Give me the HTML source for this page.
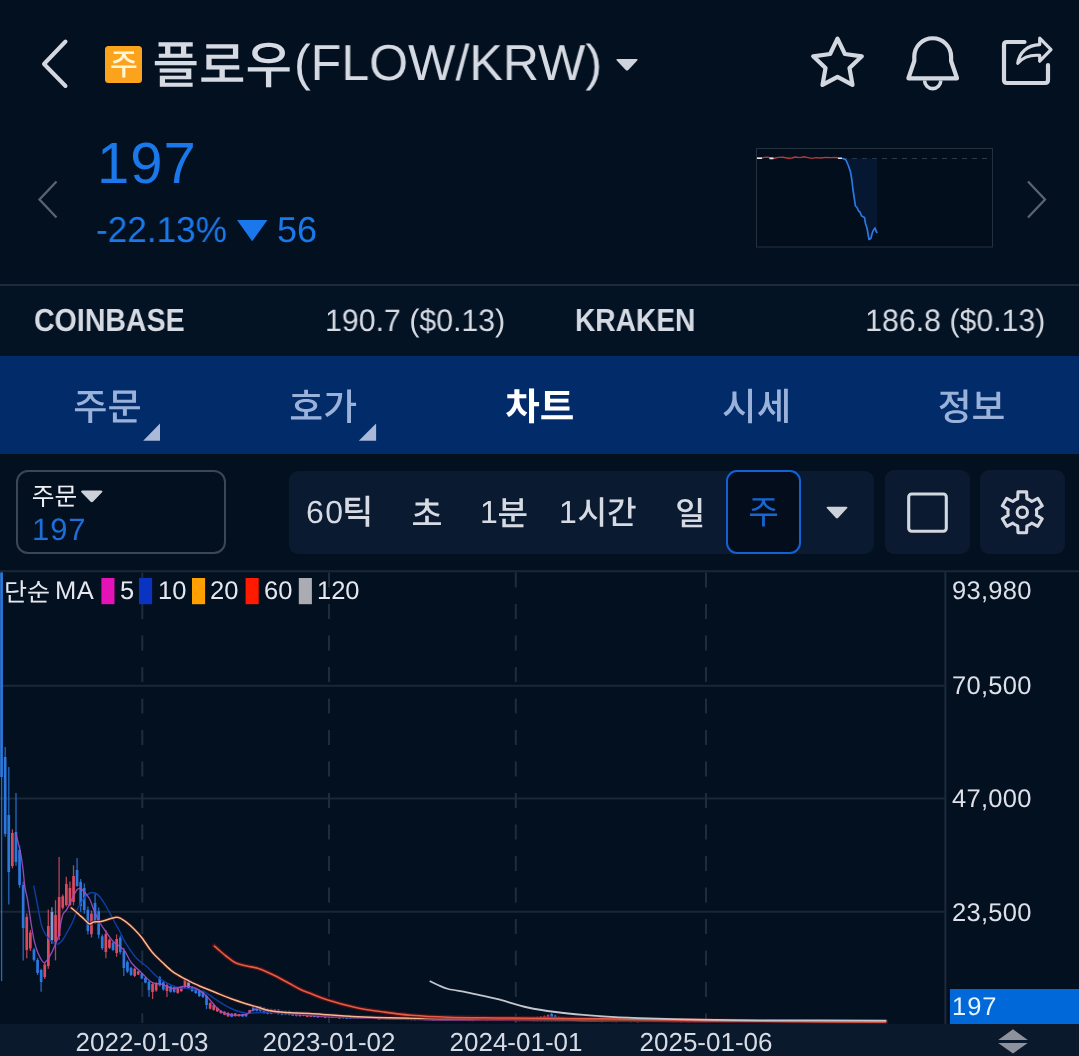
<!DOCTYPE html>
<html lang="ko"><head><meta charset="utf-8"><title>FLOW/KRW</title>
<style>
html,body{margin:0;padding:0;background:#021020}
body{width:1079px;height:1056px;overflow:hidden;font-family:"Liberation Sans",sans-serif;text-rendering:geometricPrecision;-webkit-font-smoothing:antialiased}
#app{position:relative;width:1079px;height:1056px;background:#021020;overflow:hidden}
.abs{position:absolute}
.t{position:absolute;white-space:nowrap;display:block;will-change:transform}
#ov{position:absolute;left:0;top:0}
#ov text{font-family:"Liberation Sans","Noto Sans CJK KR",sans-serif}
</style></head><body>
<div id="app">
<header>
<span class="t ttl" style="left:294px;top:38.4px;font-size:50.5px;line-height:50.5px;color:#d6dae3;transform:scaleX(0.9920);transform-origin:left 50%;">(FLOW/KRW)</span>
</header>
<section aria-label="price">
<span class="t p1" style="left:97px;top:135px;font-size:58px;line-height:58px;color:#1a78ea;letter-spacing:1px;">197</span>
<span class="t p2" style="left:95.5px;top:211.7px;font-size:36px;line-height:36px;color:#1a78ea;transform:scaleX(0.9770);transform-origin:left 50%;">-22.13%</span>
<span class="t p3" style="left:276.6px;top:211.5px;font-size:36px;line-height:36px;color:#1a78ea;">56</span>
</section>
<section aria-label="exchanges">
<div class="abs" style="left:0;top:283.5px;width:1079px;height:2px;background:#1d2a3b"></div>
<div class="abs" style="left:0;top:285.5px;width:1079px;height:71px;background:#041324"></div>
<span class="t e1" style="left:34.3px;top:303.6px;font-size:32px;line-height:32px;color:#d6dae3;font-weight:700;transform:scaleX(0.8920);transform-origin:left 50%;">COINBASE</span>
<span class="t e2" style="left:325px;top:304.7px;font-size:31px;line-height:31px;color:#d6dae3;transform:scaleX(0.9775);transform-origin:left 50%;">190.7 ($0.13)</span>
<span class="t e3" style="left:574.7px;top:303.6px;font-size:32px;line-height:32px;color:#d6dae3;font-weight:700;transform:scaleX(0.8790);transform-origin:left 50%;">KRAKEN</span>
<span class="t e4" style="right:33.6px;top:304.7px;font-size:31px;line-height:31px;color:#d6dae3;transform:scaleX(0.9775);transform-origin:right 50%;">186.8 ($0.13)</span>
</section>
<nav aria-label="tabs">
<div class="abs" style="left:0;top:356.4px;width:1079px;height:97.3px;background:#022b6a"></div>
</nav>
<section aria-label="toolbar">
<div class="abs" style="left:16px;top:470px;width:209.5px;height:83.5px;box-sizing:border-box;border:2.5px solid #3c4756;border-radius:12px"></div>
<span class="t o1" style="left:32.2px;top:513.5px;font-size:31px;line-height:31px;color:#1f6dd6;letter-spacing:0.9px;">197</span>
<div class="abs" style="left:289px;top:470.5px;width:585px;height:83px;background:#0a1a31;border-radius:9px"></div>
<span class="t k1" style="left:305.5px;top:496.3px;font-size:32px;line-height:32px;color:#d6dae3;letter-spacing:1.4px;">60</span>
<span class="t k2" style="left:479.5px;top:496px;font-size:32px;line-height:32px;color:#d6dae3;">1</span>
<span class="t k3" style="left:558.5px;top:496px;font-size:32px;line-height:32px;color:#d6dae3;">1</span>
<div class="abs" style="left:726px;top:469.7px;width:74.5px;height:84px;box-sizing:border-box;border:2.2px solid #1262d4;border-radius:11px;background:#030d1b"></div>
<div class="abs" style="left:885px;top:470px;width:84.5px;height:84px;background:#0b1a31;border-radius:9px"></div>
<div class="abs" style="left:980px;top:470px;width:84.5px;height:84px;background:#0b1a31;border-radius:9px"></div>
</section>
<main aria-label="chart">
<div class="abs" style="left:0;top:1023.7px;width:1079px;height:33px;background:#0b192c"></div>
<span class="t l0" style="left:54.6px;top:579.3px;font-size:25.5px;line-height:25.5px;color:#e4e7ee;letter-spacing:0.6px;">MA</span>
<span class="t l1" style="left:120px;top:579.2px;font-size:25.5px;line-height:25.5px;color:#e4e7ee;">5</span>
<span class="t l2" style="left:158.3px;top:579.2px;font-size:25.5px;line-height:25.5px;color:#e4e7ee;">10</span>
<span class="t l3" style="left:210px;top:579.2px;font-size:25.5px;line-height:25.5px;color:#e4e7ee;">20</span>
<span class="t l4" style="left:264.3px;top:579.2px;font-size:25.5px;line-height:25.5px;color:#e4e7ee;">60</span>
<span class="t l5" style="left:316.5px;top:579.2px;font-size:25.5px;line-height:25.5px;color:#e4e7ee;">120</span>
<span class="t yl" style="left:952px;top:578.7px;font-size:25.5px;line-height:25.5px;color:#dde0e8;letter-spacing:0.3px;">93,980</span>
<span class="t yl" style="left:952px;top:674.2px;font-size:25.5px;line-height:25.5px;color:#dde0e8;letter-spacing:0.3px;">70,500</span>
<span class="t yl" style="left:952px;top:787.2px;font-size:25.5px;line-height:25.5px;color:#dde0e8;letter-spacing:0.3px;">47,000</span>
<span class="t yl" style="left:952px;top:900.7px;font-size:25.5px;line-height:25.5px;color:#dde0e8;letter-spacing:0.3px;">23,500</span>
<div class="abs" style="left:950px;top:989.2px;width:129px;height:34.8px;background:#0068d8"></div>
<span class="t yl" style="left:952px;top:994.6px;font-size:25.5px;line-height:25.5px;color:#e6f4ff;letter-spacing:1px;">197</span>
<span class="t xl" style="left:61.8px;top:1028.5px;width:160px;text-align:center;font-size:26px;line-height:26px;color:#d6dae3">2022-01-03</span>
<span class="t xl" style="left:249px;top:1028.5px;width:160px;text-align:center;font-size:26px;line-height:26px;color:#d6dae3">2023-01-02</span>
<span class="t xl" style="left:436px;top:1028.5px;width:160px;text-align:center;font-size:26px;line-height:26px;color:#d6dae3">2024-01-01</span>
<span class="t xl" style="left:626px;top:1028.5px;width:160px;text-align:center;font-size:26px;line-height:26px;color:#d6dae3">2025-01-06</span>
</main>
<svg id="ov" width="1079" height="1056" viewBox="0 0 1079 1056" role="img" aria-label="플로우(FLOW/KRW) 주문 호가 차트 시세 정보 60틱 초 1분 1시간 일 주 단순 MA">
<path d="M65.5 41.5 L44 64 L65.5 86" fill="none" stroke="#d3d7e0" stroke-width="4" stroke-linecap="round" stroke-linejoin="round"/>
<rect x="105" y="46" width="37" height="37" rx="3.5" fill="#fba31c"/>
<text x="110.1" y="75.3" font-size="30.2" font-weight="500" fill="#fff4d4">주</text>
<text x="152.6" y="82.8" font-size="50.5" font-weight="500" fill="#d6dae3">플로우</text>
<path d="M617.5 59 H636.5 Q638.5 59 637.2 60.6 L628.3 69.9 Q627 71.2 625.7 69.9 L616.8 60.6 Q615.5 59 617.5 59Z" fill="#cfd3dc"/>
<path d="M837.5 38.6 L844.9 54 L861.8 56.3 L849.5 68.1 L852.5 84.9 L837.5 76.8 L822.5 84.9 L825.5 68.1 L813.2 56.3 L830.1 54Z" fill="none" stroke="#d3d7e0" stroke-width="4.2" stroke-linejoin="round"/>
<path d="M914.3 61 V56.6 A18.4 18.4 0 0 1 951.1 56.6 V61 L957 78.3 H908.4 Z" fill="none" stroke="#d3d7e0" stroke-width="4.2" stroke-linejoin="round"/>
<path d="M924.6 80.5 A8.1 8.1 0 0 0 940.8 80.5" fill="none" stroke="#d3d7e0" stroke-width="3.6"/>
<path d="M1024.5 42 H1007 Q1004 42 1004 45 V80 Q1004 83 1007 83 H1045 Q1048 83 1048 80 V65" fill="none" stroke="#d3d7e0" stroke-width="4.2" stroke-linecap="round"/>
<path d="M1039.7 38.2 L1051 49.6 L1039.7 61.2 V55.4 C1030.5 54.6 1023 57.4 1017.8 63.2 C1019.4 52.2 1027.4 45 1039.7 44.6 Z" fill="none" stroke="#d3d7e0" stroke-width="3.2" stroke-linejoin="round"/>
<path d="M237 220 H267.5 L252.2 241.2Z" fill="#1a78ea"/>
<path d="M56.5 181.5 L39.5 199.5 L56.5 217.5" fill="none" stroke="#5b6370" stroke-width="2.3"/>
<path d="M1028 181.5 L1045 199.5 L1028 217.5" fill="none" stroke="#5b6370" stroke-width="2.3"/>
<rect x="756.5" y="148.5" width="236" height="98.5" fill="#020e1c" stroke="#263140" stroke-width="1"/>
<path d="M842 158.5 H992" stroke="#2b3848" stroke-width="1.2" stroke-dasharray="5 5" fill="none"/>
<path d="M842.3 158.5 L842.3 158.3 L846 160 L848.5 166 L850.5 172 L852 181 L853 190 L854.4 199 L855.4 206 L857 207.5 L858.6 211 L860 212 L861.6 216 L864.5 217.5 L865.6 224 L867 228 L868 234 L869 239.5 L870.8 238.5 L872 234 L873 231 L875 228 L876 231 L877.2 233 L877.2 158.5Z" fill="#0b2a5e" opacity=".33"/>
<path d="M757 158 L762 158 L764 157.4 L768 157.2 L771 158.2 L775 158.2 L778 157.4 L783 157.2 L788 158.2 L792 158 L795 157 L800 157.6 L804 156.8 L808 157.6 L812 158.4 L816 157.6 L821 158 L826 157.4 L831 157.6 L836 157.4 L838 158" fill="none" stroke="#b63a3a" stroke-width="1.4"/>
<path d="M757 158.2 H762 M769.5 158.4 H773.5 M838 158.2 H842" stroke="#e8e8ee" stroke-width="1.6"/>
<path d="M842.3 158.3 L846 160 L848.5 166 L850.5 172 L852 181 L853 190 L854.4 199 L855.4 206 L857 207.5 L858.6 211 L860 212 L861.6 216 L864.5 217.5 L865.6 224 L867 228 L868 234 L869 239.5 L870.8 238.5 L872 234 L873 231 L875 228 L876 231 L877.2 233" fill="none" stroke="#2b78e2" stroke-width="1.7" stroke-linejoin="round"/>
<text x="73.2" y="420.1" font-size="37.2" font-weight="500" fill="#9ab2da">주문</text>
<text x="289.3" y="419.9" font-size="36.8" font-weight="500" fill="#9ab2da">호가</text>
<text x="505.2" y="420.4" font-size="37.6" font-weight="700" fill="#ffffff">차트</text>
<text x="722.1" y="420" font-size="37.6" font-weight="500" fill="#9ab2da">시세</text>
<text x="937.7" y="419.5" font-size="36.8" font-weight="500" fill="#9ab2da">정보</text>
<path d="M160 423.6 V440.8 H143.2Z" fill="#aab9d8"/>
<path d="M376.1 423.6 V440.8 H358.8Z" fill="#aab9d8"/>
<text x="31.8" y="505.1" font-size="24.7" fill="#eef0f5">주문</text>
<path d="M82.5 490.5 H101 Q103.5 490.5 101.8 492.4 L93.2 501.6 Q91.8 503 90.4 501.6 L81.7 492.4 Q80 490.5 82.5 490.5Z" fill="#cdd1da"/>
<text x="341.9" y="524.4" font-size="34" font-weight="500" fill="#d6dae3">틱</text>
<text x="411.4" y="525.6" font-size="33.7" font-weight="500" fill="#d6dae3">초</text>
<text x="497.5" y="524.9" font-size="33.2" font-weight="500" fill="#d6dae3">분</text>
<text x="577.4" y="524.1" font-size="32.2" font-weight="500" fill="#d6dae3">시간</text>
<text x="675.3" y="524.7" font-size="32.6" font-weight="500" fill="#d6dae3">일</text>
<text x="748.3" y="524" font-size="33.3" fill="#1766d4">주</text>
<path d="M828 506.8 H846 Q848.5 506.8 846.8 508.6 L838.3 517.8 Q837 519.2 835.7 517.8 L827.2 508.6 Q825.5 506.8 828 506.8Z" fill="#cdd1da"/>
<rect x="908.7" y="494" width="37.6" height="37.3" rx="3" fill="none" stroke="#d3d7e0" stroke-width="3.1"/>
<path d="M1017.7 498.7 L1018 491.9 L1026.6 491.9 L1026.9 498.7 A14.4 14.4 0 0 1 1031.8 501.5 L1037.8 498.3 L1042.2 505.8 L1036.4 509.5 A14.4 14.4 0 0 1 1036.4 515.1 L1042.2 518.8 L1037.8 526.3 L1031.8 523.1 A14.4 14.4 0 0 1 1026.9 525.9 L1026.6 532.7 L1018 532.7 L1017.7 525.9 A14.4 14.4 0 0 1 1012.8 523.1 L1006.8 526.3 L1002.4 518.8 L1008.2 515.1 A14.4 14.4 0 0 1 1008.2 509.5 L1002.4 505.8 L1006.8 498.3 L1012.8 501.5 A14.4 14.4 0 0 1 1017.7 498.7 Z" fill="none" stroke="#d3d7e0" stroke-width="3.1" stroke-linejoin="round"/>
<circle cx="1022.3" cy="512.3" r="5.2" fill="none" stroke="#d3d7e0" stroke-width="3"/>
<path d="M0 571.3 H1079" stroke="#1a2737" stroke-width="2"/>
<path d="M0 685.7 H945" stroke="#1a2737" stroke-width="2"/>
<path d="M0 798.5 H945" stroke="#1a2737" stroke-width="2"/>
<path d="M0 911.8 H945" stroke="#1a2737" stroke-width="2"/>
<path d="M142.3 572.4 V1023" stroke="#1f2c3d" stroke-width="2" stroke-dasharray="15 16.5"/>
<path d="M329 572.4 V1023" stroke="#1f2c3d" stroke-width="2" stroke-dasharray="15 16.5"/>
<path d="M515.8 572.4 V1023" stroke="#1f2c3d" stroke-width="2" stroke-dasharray="15 16.5"/>
<path d="M706 572.4 V1023" stroke="#1f2c3d" stroke-width="2" stroke-dasharray="15 16.5"/>
<path d="M945.4 572 V1024" stroke="#1d2a3b" stroke-width="2"/>
<path d="M1.6 572.5 V981" stroke="#2c78de" stroke-width="1.3" opacity=".85"/>
<rect x="0.2" y="572.5" width="2.7" height="204.5" fill="#2c78de"/>
<path d="M5.2 747 V836.7" stroke="#2c78de" stroke-width="1.3" opacity=".85"/>
<rect x="3.8" y="757" width="2.7" height="77" fill="#2c78de"/>
<path d="M8.8 767 V904.4" stroke="#2c78de" stroke-width="1.3" opacity=".85"/>
<rect x="7.4" y="815" width="2.7" height="57" fill="#2c78de"/>
<path d="M12.4 829.4 V868.4" stroke="#dc4a60" stroke-width="1.3" opacity=".85"/>
<rect x="11" y="833" width="2.7" height="33" fill="#dc4a60"/>
<path d="M16 793 V865.8" stroke="#2c78de" stroke-width="1.3" opacity=".85"/>
<rect x="14.6" y="832" width="2.7" height="30" fill="#2c78de"/>
<path d="M19.6 845.5 V887.7" stroke="#2c78de" stroke-width="1.3" opacity=".85"/>
<rect x="18.2" y="850" width="2.7" height="35" fill="#2c78de"/>
<path d="M23.2 881.5 V960.4" stroke="#2c78de" stroke-width="1.3" opacity=".85"/>
<rect x="21.8" y="885" width="2.7" height="43" fill="#2c78de"/>
<path d="M26.8 913.5 V958.3" stroke="#dc4a60" stroke-width="1.3" opacity=".85"/>
<rect x="25.4" y="917" width="2.7" height="33" fill="#dc4a60"/>
<path d="M30.4 930 V951" stroke="#dc4a60" stroke-width="1.3" opacity=".85"/>
<rect x="29" y="932.5" width="2.7" height="16" fill="#dc4a60"/>
<path d="M34 948 V961.5" stroke="#2c78de" stroke-width="1.3" opacity=".85"/>
<rect x="32.6" y="949.6" width="2.7" height="10.3" fill="#2c78de"/>
<path d="M37.6 958 V975" stroke="#2c78de" stroke-width="1.3" opacity=".85"/>
<rect x="36.2" y="960" width="2.7" height="12.9" fill="#2c78de"/>
<path d="M41.1 968.7 V991.7" stroke="#2c78de" stroke-width="1.3" opacity=".85"/>
<rect x="39.8" y="970" width="2.7" height="12" fill="#2c78de"/>
<path d="M44.7 962.5 V979" stroke="#dc4a60" stroke-width="1.3" opacity=".85"/>
<rect x="43.4" y="964.5" width="2.7" height="12.5" fill="#dc4a60"/>
<path d="M48.3 909.5 V968.7" stroke="#dc4a60" stroke-width="1.3" opacity=".85"/>
<rect x="47" y="926" width="2.7" height="40" fill="#dc4a60"/>
<path d="M51.9 907.3 V943.7" stroke="#7f9fd8" stroke-width="1.3" opacity=".85"/>
<rect x="50.6" y="912" width="2.7" height="28" fill="#7f9fd8"/>
<path d="M55.5 900.2 V960.4" stroke="#dc4a60" stroke-width="1.3" opacity=".85"/>
<rect x="54.2" y="915" width="2.7" height="27" fill="#dc4a60"/>
<path d="M59.1 857 V940" stroke="#dc4a60" stroke-width="1.3" opacity=".85"/>
<rect x="57.8" y="897" width="2.7" height="39" fill="#dc4a60"/>
<path d="M62.7 894.5 V909.6" stroke="#dc4a60" stroke-width="1.3" opacity=".85"/>
<rect x="61.4" y="896.3" width="2.7" height="11.5" fill="#dc4a60"/>
<path d="M66.3 876.8 V906.5" stroke="#dc4a60" stroke-width="1.3" opacity=".85"/>
<rect x="65" y="884" width="2.7" height="21" fill="#dc4a60"/>
<path d="M69.9 881.5 V906.5" stroke="#dc4a60" stroke-width="1.3" opacity=".85"/>
<rect x="68.6" y="888" width="2.7" height="17" fill="#dc4a60"/>
<path d="M73.5 865.3 V905.4" stroke="#dc4a60" stroke-width="1.3" opacity=".85"/>
<rect x="72.2" y="876" width="2.7" height="26" fill="#dc4a60"/>
<path d="M77.1 858 V886.7" stroke="#2c78de" stroke-width="1.3" opacity=".85"/>
<rect x="75.7" y="870" width="2.7" height="16" fill="#2c78de"/>
<path d="M80.7 878.9 V911.7" stroke="#2c78de" stroke-width="1.3" opacity=".85"/>
<rect x="79.3" y="882" width="2.7" height="24" fill="#2c78de"/>
<path d="M84.3 883.5 V913.7" stroke="#2c78de" stroke-width="1.3" opacity=".85"/>
<rect x="82.9" y="888" width="2.7" height="22" fill="#2c78de"/>
<path d="M87.9 906.5 V934.4" stroke="#2c78de" stroke-width="1.3" opacity=".85"/>
<rect x="86.5" y="909.8" width="2.7" height="21.2" fill="#2c78de"/>
<path d="M91.5 910.5 V937.5" stroke="#dc4a60" stroke-width="1.3" opacity=".85"/>
<rect x="90.1" y="913.7" width="2.7" height="20.5" fill="#dc4a60"/>
<path d="M95.1 894 V924" stroke="#2c78de" stroke-width="1.3" opacity=".85"/>
<rect x="93.7" y="903" width="2.7" height="19" fill="#2c78de"/>
<path d="M98.7 907.5 V938.5" stroke="#2c78de" stroke-width="1.3" opacity=".85"/>
<rect x="97.3" y="911.2" width="2.7" height="23.6" fill="#2c78de"/>
<path d="M102.3 934.4 V950" stroke="#2c78de" stroke-width="1.3" opacity=".85"/>
<rect x="100.9" y="936.3" width="2.7" height="11.9" fill="#2c78de"/>
<path d="M105.9 930.2 V958.3" stroke="#dc4a60" stroke-width="1.3" opacity=".85"/>
<rect x="104.5" y="934" width="2.7" height="18" fill="#dc4a60"/>
<path d="M109.5 938.5 V949" stroke="#dc4a60" stroke-width="1.3" opacity=".85"/>
<rect x="108.1" y="939.8" width="2.7" height="8" fill="#dc4a60"/>
<path d="M113 941.7 V951" stroke="#2c78de" stroke-width="1.3" opacity=".85"/>
<rect x="111.7" y="942.8" width="2.7" height="7.1" fill="#2c78de"/>
<path d="M116.6 934.4 V956.8" stroke="#dc4a60" stroke-width="1.3" opacity=".85"/>
<rect x="115.3" y="939" width="2.7" height="14" fill="#dc4a60"/>
<path d="M120.2 935.4 V954.2" stroke="#2c78de" stroke-width="1.3" opacity=".85"/>
<rect x="118.9" y="937.7" width="2.7" height="14.3" fill="#2c78de"/>
<path d="M123.8 948 V976" stroke="#2c78de" stroke-width="1.3" opacity=".85"/>
<rect x="122.5" y="951" width="2.7" height="17" fill="#2c78de"/>
<path d="M127.4 960.4 V973" stroke="#2c78de" stroke-width="1.3" opacity=".85"/>
<rect x="126.1" y="961.9" width="2.7" height="9.6" fill="#2c78de"/>
<path d="M131 966.7 V976" stroke="#2c78de" stroke-width="1.3" opacity=".85"/>
<rect x="129.7" y="967.8" width="2.7" height="7.1" fill="#2c78de"/>
<path d="M134.6 967.7 V977" stroke="#dc4a60" stroke-width="1.3" opacity=".85"/>
<rect x="133.3" y="968.8" width="2.7" height="7.1" fill="#dc4a60"/>
<path d="M138.2 970.8 V975" stroke="#dc4a60" stroke-width="1.3" opacity=".85"/>
<rect x="136.9" y="971.3" width="2.7" height="3.2" fill="#dc4a60"/>
<path d="M141.8 972.9 V979.2" stroke="#2c78de" stroke-width="1.3" opacity=".85"/>
<rect x="140.5" y="973.7" width="2.7" height="4.8" fill="#2c78de"/>
<path d="M145.4 977 V983.3" stroke="#2c78de" stroke-width="1.3" opacity=".85"/>
<rect x="144.1" y="977.8" width="2.7" height="4.8" fill="#2c78de"/>
<path d="M149 980.2 V996.9" stroke="#2c78de" stroke-width="1.3" opacity=".85"/>
<rect x="147.6" y="982" width="2.7" height="8" fill="#2c78de"/>
<path d="M152.6 982.3 V999" stroke="#dc4a60" stroke-width="1.3" opacity=".85"/>
<rect x="151.2" y="984" width="2.7" height="8" fill="#dc4a60"/>
<path d="M156.2 982.3 V991.7" stroke="#dc4a60" stroke-width="1.3" opacity=".85"/>
<rect x="154.8" y="983.4" width="2.7" height="7.1" fill="#dc4a60"/>
<path d="M159.8 976 V986.5" stroke="#2c78de" stroke-width="1.3" opacity=".85"/>
<rect x="158.4" y="977.3" width="2.7" height="8" fill="#2c78de"/>
<path d="M163.4 981.2 V990.6" stroke="#2c78de" stroke-width="1.3" opacity=".85"/>
<rect x="162" y="982.3" width="2.7" height="7.1" fill="#2c78de"/>
<path d="M167 983.3 V996.9" stroke="#dc4a60" stroke-width="1.3" opacity=".85"/>
<rect x="165.6" y="985" width="2.7" height="6" fill="#dc4a60"/>
<path d="M170.6 985.4 V992.7" stroke="#2c78de" stroke-width="1.3" opacity=".85"/>
<rect x="169.2" y="986.3" width="2.7" height="5.5" fill="#2c78de"/>
<path d="M174.2 986.5 V992.7" stroke="#2c78de" stroke-width="1.3" opacity=".85"/>
<rect x="172.8" y="987.2" width="2.7" height="4.7" fill="#2c78de"/>
<path d="M177.8 987.5 V993.7" stroke="#dc4a60" stroke-width="1.3" opacity=".85"/>
<rect x="176.4" y="988.2" width="2.7" height="4.7" fill="#dc4a60"/>
<path d="M181.3 986.5 V991.7" stroke="#dc4a60" stroke-width="1.3" opacity=".85"/>
<rect x="180" y="987.1" width="2.7" height="4" fill="#dc4a60"/>
<path d="M184.9 978.1 V988.5" stroke="#dc4a60" stroke-width="1.3" opacity=".85"/>
<rect x="183.6" y="979.3" width="2.7" height="7.9" fill="#dc4a60"/>
<path d="M188.5 981.2 V988.5" stroke="#7f9fd8" stroke-width="1.3" opacity=".85"/>
<rect x="187.2" y="982.1" width="2.7" height="5.5" fill="#7f9fd8"/>
<path d="M192.1 986.5 V991.7" stroke="#2c78de" stroke-width="1.3" opacity=".85"/>
<rect x="190.8" y="987.1" width="2.7" height="4" fill="#2c78de"/>
<path d="M195.7 988.5 V993.7" stroke="#2c78de" stroke-width="1.3" opacity=".85"/>
<rect x="194.4" y="989.1" width="2.7" height="4" fill="#2c78de"/>
<path d="M199.3 989.6 V996.9" stroke="#2c78de" stroke-width="1.3" opacity=".85"/>
<rect x="198" y="990.5" width="2.7" height="5.5" fill="#2c78de"/>
<path d="M202.9 990.6 V997.9" stroke="#2c78de" stroke-width="1.3" opacity=".85"/>
<rect x="201.6" y="991.5" width="2.7" height="5.5" fill="#2c78de"/>
<path d="M206.5 994.6 V1009" stroke="#2c78de" stroke-width="1.3" opacity=".85"/>
<rect x="205.2" y="996" width="2.7" height="9" fill="#2c78de"/>
<path d="M210.1 1002.2 V1009.5" stroke="#dc4a60" stroke-width="1.3" opacity=".85"/>
<rect x="208.8" y="1003.1" width="2.7" height="5.5" fill="#dc4a60"/>
<path d="M213.7 1004.2 V1010.7" stroke="#dc4a60" stroke-width="1.3" opacity=".85"/>
<rect x="212.4" y="1005" width="2.7" height="4.9" fill="#dc4a60"/>
<path d="M217.3 1007.3 V1011.9" stroke="#dc4a60" stroke-width="1.3" opacity=".85"/>
<rect x="216" y="1007.9" width="2.7" height="3.5" fill="#dc4a60"/>
<path d="M220.9 1010.4 V1013.6" stroke="#dc4a60" stroke-width="1.3" opacity=".85"/>
<rect x="219.5" y="1010.7" width="2.7" height="2.5" fill="#dc4a60"/>
<path d="M224.5 1011.2 V1015.2" stroke="#dc4a60" stroke-width="1.3" opacity=".85"/>
<rect x="223.1" y="1011.7" width="2.7" height="3" fill="#dc4a60"/>
<path d="M228.1 1012.3 V1016.9" stroke="#dc4a60" stroke-width="1.3" opacity=".85"/>
<rect x="226.7" y="1012.8" width="2.7" height="3.5" fill="#dc4a60"/>
<path d="M231.7 1013.1 V1017.3" stroke="#2c78de" stroke-width="1.3" opacity=".85"/>
<rect x="230.3" y="1013.6" width="2.7" height="3.2" fill="#2c78de"/>
<path d="M235.3 1013 V1016.6" stroke="#dc4a60" stroke-width="1.3" opacity=".85"/>
<rect x="233.9" y="1013.4" width="2.7" height="2.8" fill="#dc4a60"/>
<path d="M238.9 1013.9 V1016.6" stroke="#dc4a60" stroke-width="1.3" opacity=".85"/>
<rect x="237.5" y="1014.2" width="2.7" height="2" fill="#dc4a60"/>
<path d="M242.5 1013.8 V1016.9" stroke="#2c78de" stroke-width="1.3" opacity=".85"/>
<rect x="241.1" y="1014.1" width="2.7" height="2.4" fill="#2c78de"/>
<path d="M246.1 1013.3 V1016.8" stroke="#2c78de" stroke-width="1.3" opacity=".85"/>
<rect x="244.7" y="1013.8" width="2.7" height="2.6" fill="#2c78de"/>
<path d="M249.7 1009.7 V1013.3" stroke="#dc4a60" stroke-width="1.3" opacity=".85"/>
<rect x="248.3" y="1010.1" width="2.7" height="2.8" fill="#dc4a60"/>
<path d="M253.2 1006.1 V1011.6" stroke="#2c78de" stroke-width="1.3" opacity=".85"/>
<rect x="251.9" y="1006.7" width="2.7" height="4.2" fill="#2c78de"/>
<path d="M256.8 1005.9 V1011.5" stroke="#2c78de" stroke-width="1.3" opacity=".85"/>
<rect x="255.5" y="1006.5" width="2.7" height="4.3" fill="#2c78de"/>
<path d="M260.4 1005.9 V1011.8" stroke="#2c78de" stroke-width="1.3" opacity=".85"/>
<rect x="259.1" y="1006.6" width="2.7" height="4.4" fill="#2c78de"/>
<path d="M264 1007.1 V1013.7" stroke="#2c78de" stroke-width="1.3" opacity=".85"/>
<rect x="262.7" y="1007.9" width="2.7" height="5" fill="#2c78de"/>
<path d="M267.6 1008.3 V1014.4" stroke="#2c78de" stroke-width="1.3" opacity=".85"/>
<rect x="266.3" y="1009.1" width="2.7" height="4.6" fill="#2c78de"/>
<path d="M271.2 1008.7 V1014.3" stroke="#dc4a60" stroke-width="1.3" opacity=".85"/>
<rect x="269.9" y="1009.4" width="2.7" height="4.2" fill="#dc4a60"/>
<path d="M274.8 1009.1 V1013.2" stroke="#dc4a60" stroke-width="1.3" opacity=".85"/>
<rect x="273.5" y="1009.6" width="2.7" height="3.1" fill="#dc4a60"/>
<path d="M278.4 1009.1 V1014.6" stroke="#2c78de" stroke-width="1.3" opacity=".85"/>
<rect x="277.1" y="1009.8" width="2.7" height="4.2" fill="#2c78de"/>
<path d="M282 1010.5 V1015.2" stroke="#2c78de" stroke-width="1.3" opacity=".85"/>
<rect x="280.7" y="1011.1" width="2.7" height="3.5" fill="#2c78de"/>
<path d="M285.6 1010.6 V1015.1" stroke="#2c78de" stroke-width="1.3" opacity=".85"/>
<rect x="284.3" y="1011.1" width="2.7" height="3.4" fill="#2c78de"/>
<path d="M289.2 1010.5 V1015.5" stroke="#2c78de" stroke-width="1.3" opacity=".85"/>
<rect x="287.9" y="1011.1" width="2.7" height="3.7" fill="#2c78de"/>
<path d="M292.8 1012.5 V1016.1" stroke="#2c78de" stroke-width="1.3" opacity=".85"/>
<rect x="291.4" y="1012.9" width="2.7" height="2.8" fill="#2c78de"/>
<path d="M296.4 1011.4 V1016.6" stroke="#2c78de" stroke-width="1.3" opacity=".85"/>
<rect x="295" y="1012" width="2.7" height="3.9" fill="#2c78de"/>
<path d="M300 1012.8 V1016.6" stroke="#dc4a60" stroke-width="1.3" opacity=".85"/>
<rect x="298.6" y="1013.3" width="2.7" height="2.9" fill="#dc4a60"/>
<path d="M303.6 1013.1 V1016.2" stroke="#dc4a60" stroke-width="1.3" opacity=".85"/>
<rect x="302.2" y="1013.5" width="2.7" height="2.3" fill="#dc4a60"/>
<path d="M307.2 1014.1 V1017.3" stroke="#dc4a60" stroke-width="1.3" opacity=".85"/>
<rect x="305.8" y="1014.5" width="2.7" height="2.4" fill="#dc4a60"/>
<path d="M310.8 1014.2 V1017" stroke="#dc4a60" stroke-width="1.3" opacity=".85"/>
<rect x="309.4" y="1014.6" width="2.7" height="2.1" fill="#dc4a60"/>
<path d="M314.4 1014.7 V1017.3" stroke="#2c78de" stroke-width="1.3" opacity=".85"/>
<rect x="313" y="1015" width="2.7" height="2" fill="#2c78de"/>
<path d="M318 1013.9 V1017.9" stroke="#2c78de" stroke-width="1.3" opacity=".85"/>
<rect x="316.6" y="1014.3" width="2.7" height="3" fill="#2c78de"/>
<path d="M321.6 1014.8 V1017.5" stroke="#2c78de" stroke-width="1.3" opacity=".85"/>
<rect x="320.2" y="1015.1" width="2.7" height="2" fill="#2c78de"/>
<path d="M325.2 1014.3 V1018.3" stroke="#dc4a60" stroke-width="1.3" opacity=".85"/>
<rect x="323.8" y="1014.8" width="2.7" height="3" fill="#dc4a60"/>
<path d="M328.7 1015.4 V1017.6" stroke="#dc4a60" stroke-width="1.3" opacity=".85"/>
<rect x="327.4" y="1015.6" width="2.7" height="1.7" fill="#dc4a60"/>
<path d="M332.3 1015.2 V1018.1" stroke="#dc4a60" stroke-width="1.3" opacity=".85"/>
<rect x="331" y="1015.6" width="2.7" height="2.2" fill="#dc4a60"/>
<path d="M335.9 1016 V1018.1" stroke="#dc4a60" stroke-width="1.3" opacity=".85"/>
<rect x="334.6" y="1016.2" width="2.7" height="1.6" fill="#dc4a60"/>
<path d="M339.5 1015.6 V1018.8" stroke="#dc4a60" stroke-width="1.3" opacity=".85"/>
<rect x="338.2" y="1016" width="2.7" height="2.4" fill="#dc4a60"/>
<path d="M343.1 1015.9 V1018.6" stroke="#2c78de" stroke-width="1.3" opacity=".85"/>
<rect x="341.8" y="1016.2" width="2.7" height="2.1" fill="#2c78de"/>
<path d="M346.7 1016.5 V1019" stroke="#2c78de" stroke-width="1.3" opacity=".85"/>
<rect x="345.4" y="1016.8" width="2.7" height="1.9" fill="#2c78de"/>
<path d="M350.3 1015.9 V1019" stroke="#2c78de" stroke-width="1.3" opacity=".85"/>
<rect x="349" y="1016.3" width="2.7" height="2.3" fill="#2c78de"/>
<path d="M353.9 1016.5 V1018.4" stroke="#dc4a60" stroke-width="1.3" opacity=".85"/>
<rect x="352.6" y="1016.8" width="2.7" height="1.4" fill="#dc4a60"/>
<path d="M357.5 1017 V1018.5" stroke="#2c78de" stroke-width="1.3" opacity=".85"/>
<rect x="356.2" y="1017.2" width="2.7" height="1.1" fill="#2c78de"/>
<path d="M361.1 1017 V1018.8" stroke="#dc4a60" stroke-width="1.3" opacity=".85"/>
<rect x="359.8" y="1017.2" width="2.7" height="1.4" fill="#dc4a60"/>
<path d="M364.7 1017.3 V1018.7" stroke="#dc4a60" stroke-width="1.3" opacity=".85"/>
<rect x="363.3" y="1017.4" width="2.7" height="1.1" fill="#dc4a60"/>
<path d="M368.3 1017.1 V1018.7" stroke="#dc4a60" stroke-width="1.3" opacity=".85"/>
<rect x="366.9" y="1017.3" width="2.7" height="1.3" fill="#dc4a60"/>
<path d="M371.9 1017 V1018.9" stroke="#2c78de" stroke-width="1.3" opacity=".85"/>
<rect x="370.5" y="1017.2" width="2.7" height="1.5" fill="#2c78de"/>
<path d="M375.5 1017.3 V1019.2" stroke="#dc4a60" stroke-width="1.3" opacity=".85"/>
<rect x="374.1" y="1017.6" width="2.7" height="1.4" fill="#dc4a60"/>
<path d="M379.1 1017.1 V1019.8" stroke="#dc4a60" stroke-width="1.3" opacity=".85"/>
<rect x="377.7" y="1017.4" width="2.7" height="2.1" fill="#dc4a60"/>
<path d="M382.7 1017.5 V1019.1" stroke="#dc4a60" stroke-width="1.3" opacity=".85"/>
<rect x="381.3" y="1017.7" width="2.7" height="1.3" fill="#dc4a60"/>
<path d="M386.3 1017.7 V1019.4" stroke="#dc4a60" stroke-width="1.3" opacity=".85"/>
<rect x="384.9" y="1017.9" width="2.7" height="1.2" fill="#dc4a60"/>
<path d="M389.9 1018 V1019.3" stroke="#2c78de" stroke-width="1.3" opacity=".85"/>
<rect x="388.5" y="1018.2" width="2.7" height="1" fill="#2c78de"/>
<path d="M393.5 1017.9 V1019.5" stroke="#2c78de" stroke-width="1.3" opacity=".85"/>
<rect x="392.1" y="1018.1" width="2.7" height="1.2" fill="#2c78de"/>
<path d="M397.1 1018.4 V1019.8" stroke="#2c78de" stroke-width="1.3" opacity=".85"/>
<rect x="395.7" y="1018.5" width="2.7" height="1.1" fill="#2c78de"/>
<path d="M400.6 1017.9 V1020.1" stroke="#2c78de" stroke-width="1.3" opacity=".85"/>
<rect x="399.3" y="1018.1" width="2.7" height="1.7" fill="#2c78de"/>
<path d="M404.2 1018.3 V1019.7" stroke="#dc4a60" stroke-width="1.3" opacity=".85"/>
<rect x="402.9" y="1018.5" width="2.7" height="1.1" fill="#dc4a60"/>
<path d="M407.8 1018.2 V1020.3" stroke="#2c78de" stroke-width="1.3" opacity=".85"/>
<rect x="406.5" y="1018.5" width="2.7" height="1.5" fill="#2c78de"/>
<path d="M411.4 1018.5 V1020.4" stroke="#dc4a60" stroke-width="1.3" opacity=".85"/>
<rect x="410.1" y="1018.7" width="2.7" height="1.4" fill="#dc4a60"/>
<path d="M415 1018.1 V1020.4" stroke="#2c78de" stroke-width="1.3" opacity=".85"/>
<rect x="413.7" y="1018.4" width="2.7" height="1.7" fill="#2c78de"/>
<path d="M418.6 1018.3 V1020.1" stroke="#2c78de" stroke-width="1.3" opacity=".85"/>
<rect x="417.3" y="1018.5" width="2.7" height="1.3" fill="#2c78de"/>
<path d="M422.2 1018.6 V1020" stroke="#2c78de" stroke-width="1.3" opacity=".85"/>
<rect x="420.9" y="1018.8" width="2.7" height="1" fill="#2c78de"/>
<path d="M425.8 1018.8 V1020.2" stroke="#dc4a60" stroke-width="1.3" opacity=".85"/>
<rect x="424.5" y="1019" width="2.7" height="1.1" fill="#dc4a60"/>
<path d="M429.4 1018.4 V1020.5" stroke="#2c78de" stroke-width="1.3" opacity=".85"/>
<rect x="428.1" y="1018.6" width="2.7" height="1.6" fill="#2c78de"/>
<path d="M433 1018.4 V1020.9" stroke="#2c78de" stroke-width="1.3" opacity=".85"/>
<rect x="431.7" y="1018.7" width="2.7" height="1.9" fill="#2c78de"/>
<path d="M436.6 1019 V1020.4" stroke="#dc4a60" stroke-width="1.3" opacity=".85"/>
<rect x="435.2" y="1019.2" width="2.7" height="1.1" fill="#dc4a60"/>
<path d="M440.2 1019.1 V1020.8" stroke="#dc4a60" stroke-width="1.3" opacity=".85"/>
<rect x="438.8" y="1019.3" width="2.7" height="1.3" fill="#dc4a60"/>
<path d="M443.8 1018.7 V1020.8" stroke="#2c78de" stroke-width="1.3" opacity=".85"/>
<rect x="442.4" y="1019" width="2.7" height="1.5" fill="#2c78de"/>
<path d="M447.4 1018.8 V1020.5" stroke="#2c78de" stroke-width="1.3" opacity=".85"/>
<rect x="446" y="1019" width="2.7" height="1.3" fill="#2c78de"/>
<path d="M451 1018.8 V1021.1" stroke="#2c78de" stroke-width="1.3" opacity=".85"/>
<rect x="449.6" y="1019.1" width="2.7" height="1.7" fill="#2c78de"/>
<path d="M454.6 1019.1 V1020.7" stroke="#2c78de" stroke-width="1.3" opacity=".85"/>
<rect x="453.2" y="1019.3" width="2.7" height="1.2" fill="#2c78de"/>
<path d="M458.2 1019.3 V1021.1" stroke="#2c78de" stroke-width="1.3" opacity=".85"/>
<rect x="456.8" y="1019.5" width="2.7" height="1.4" fill="#2c78de"/>
<path d="M461.8 1019.2 V1020.9" stroke="#2c78de" stroke-width="1.3" opacity=".85"/>
<rect x="460.4" y="1019.4" width="2.7" height="1.3" fill="#2c78de"/>
<path d="M465.4 1019 V1020.7" stroke="#2c78de" stroke-width="1.3" opacity=".85"/>
<rect x="464" y="1019.2" width="2.7" height="1.3" fill="#2c78de"/>
<path d="M469 1019.4 V1021.3" stroke="#dc4a60" stroke-width="1.3" opacity=".85"/>
<rect x="467.6" y="1019.6" width="2.7" height="1.4" fill="#dc4a60"/>
<path d="M472.5 1019.4 V1021.2" stroke="#2c78de" stroke-width="1.3" opacity=".85"/>
<rect x="471.2" y="1019.7" width="2.7" height="1.4" fill="#2c78de"/>
<path d="M476.1 1019.1 V1020.9" stroke="#2c78de" stroke-width="1.3" opacity=".85"/>
<rect x="474.8" y="1019.3" width="2.7" height="1.4" fill="#2c78de"/>
<path d="M479.7 1019.5 V1020.7" stroke="#2c78de" stroke-width="1.3" opacity=".85"/>
<rect x="478.4" y="1019.6" width="2.7" height="0.9" fill="#2c78de"/>
<path d="M483.3 1019.1 V1021" stroke="#2c78de" stroke-width="1.3" opacity=".85"/>
<rect x="482" y="1019.3" width="2.7" height="1.5" fill="#2c78de"/>
<path d="M486.9 1019.3 V1021.3" stroke="#2c78de" stroke-width="1.3" opacity=".85"/>
<rect x="485.6" y="1019.5" width="2.7" height="1.5" fill="#2c78de"/>
<path d="M490.5 1019.5 V1020.9" stroke="#2c78de" stroke-width="1.3" opacity=".85"/>
<rect x="489.2" y="1019.6" width="2.7" height="1.1" fill="#2c78de"/>
<path d="M494.1 1019.5 V1021.1" stroke="#dc4a60" stroke-width="1.3" opacity=".85"/>
<rect x="492.8" y="1019.7" width="2.7" height="1.3" fill="#dc4a60"/>
<path d="M497.7 1019.3 V1020.8" stroke="#dc4a60" stroke-width="1.3" opacity=".85"/>
<rect x="496.4" y="1019.5" width="2.7" height="1.1" fill="#dc4a60"/>
<path d="M501.3 1019.4 V1021.1" stroke="#2c78de" stroke-width="1.3" opacity=".85"/>
<rect x="500" y="1019.6" width="2.7" height="1.3" fill="#2c78de"/>
<path d="M504.9 1019 V1021" stroke="#2c78de" stroke-width="1.3" opacity=".85"/>
<rect x="503.6" y="1019.3" width="2.7" height="1.5" fill="#2c78de"/>
<path d="M508.5 1019.3 V1021.1" stroke="#2c78de" stroke-width="1.3" opacity=".85"/>
<rect x="507.1" y="1019.5" width="2.7" height="1.4" fill="#2c78de"/>
<path d="M512.1 1019.7 V1021.1" stroke="#2c78de" stroke-width="1.3" opacity=".85"/>
<rect x="510.7" y="1019.8" width="2.7" height="1.1" fill="#2c78de"/>
<path d="M515.7 1019.7 V1021.4" stroke="#dc4a60" stroke-width="1.3" opacity=".85"/>
<rect x="514.3" y="1019.9" width="2.7" height="1.3" fill="#dc4a60"/>
<path d="M519.3 1019.4 V1021.3" stroke="#dc4a60" stroke-width="1.3" opacity=".85"/>
<rect x="517.9" y="1019.6" width="2.7" height="1.5" fill="#dc4a60"/>
<path d="M522.9 1019.5 V1021.2" stroke="#2c78de" stroke-width="1.3" opacity=".85"/>
<rect x="521.5" y="1019.7" width="2.7" height="1.3" fill="#2c78de"/>
<path d="M526.5 1019.2 V1020.9" stroke="#2c78de" stroke-width="1.3" opacity=".85"/>
<rect x="525.1" y="1019.4" width="2.7" height="1.3" fill="#2c78de"/>
<path d="M530.1 1019.6 V1021" stroke="#2c78de" stroke-width="1.3" opacity=".85"/>
<rect x="528.7" y="1019.7" width="2.7" height="1.1" fill="#2c78de"/>
<path d="M533.7 1017.5 V1021.5" stroke="#dc4a60" stroke-width="1.3" opacity=".85"/>
<rect x="532.3" y="1018" width="2.7" height="3" fill="#dc4a60"/>
<path d="M537.3 1016.6 V1021.5" stroke="#dc4a60" stroke-width="1.3" opacity=".85"/>
<rect x="535.9" y="1017.2" width="2.7" height="3.7" fill="#dc4a60"/>
<path d="M540.9 1016 V1021.5" stroke="#dc4a60" stroke-width="1.3" opacity=".85"/>
<rect x="539.5" y="1016.7" width="2.7" height="4.2" fill="#dc4a60"/>
<path d="M544.4 1015.4 V1021.5" stroke="#dc4a60" stroke-width="1.3" opacity=".85"/>
<rect x="543.1" y="1016.1" width="2.7" height="4.6" fill="#dc4a60"/>
<path d="M548 1014.4 V1021.5" stroke="#dc4a60" stroke-width="1.3" opacity=".85"/>
<rect x="546.7" y="1015.3" width="2.7" height="5.4" fill="#dc4a60"/>
<path d="M551.6 1013 V1021.5" stroke="#2c78de" stroke-width="1.3" opacity=".85"/>
<rect x="550.3" y="1014" width="2.7" height="6.5" fill="#2c78de"/>
<path d="M555.2 1014.8 V1021.5" stroke="#2c78de" stroke-width="1.3" opacity=".85"/>
<rect x="553.9" y="1015.6" width="2.7" height="5.1" fill="#2c78de"/>
<path d="M558.8 1016.4 V1021.5" stroke="#dc4a60" stroke-width="1.3" opacity=".85"/>
<rect x="557.5" y="1017" width="2.7" height="3.9" fill="#dc4a60"/>
<path d="M562.4 1017.4 V1021.5" stroke="#dc4a60" stroke-width="1.3" opacity=".85"/>
<rect x="561.1" y="1017.9" width="2.7" height="3.1" fill="#dc4a60"/>
<path d="M566 1017.8 V1020.1" stroke="#2c78de" stroke-width="1.3" opacity=".85"/>
<rect x="564.7" y="1018.1" width="2.7" height="1.7" fill="#2c78de"/>
<path d="M569.6 1018.4 V1020.5" stroke="#dc4a60" stroke-width="1.3" opacity=".85"/>
<rect x="568.3" y="1018.7" width="2.7" height="1.6" fill="#dc4a60"/>
<path d="M573.2 1018.8 V1021.3" stroke="#dc4a60" stroke-width="1.3" opacity=".85"/>
<rect x="571.9" y="1019.1" width="2.7" height="1.8" fill="#dc4a60"/>
<path d="M576.8 1019.1 V1021.2" stroke="#dc4a60" stroke-width="1.3" opacity=".85"/>
<rect x="575.5" y="1019.4" width="2.7" height="1.6" fill="#dc4a60"/>
<path d="M580.4 1019.2 V1021.6" stroke="#2c78de" stroke-width="1.3" opacity=".85"/>
<rect x="579" y="1019.5" width="2.7" height="1.8" fill="#2c78de"/>
<path d="M584 1019.7 V1021.5" stroke="#dc4a60" stroke-width="1.3" opacity=".85"/>
<rect x="582.6" y="1019.9" width="2.7" height="1.3" fill="#dc4a60"/>
<path d="M587.6 1020 V1021.4" stroke="#dc4a60" stroke-width="1.3" opacity=".85"/>
<rect x="586.2" y="1020.1" width="2.7" height="1.1" fill="#dc4a60"/>
<path d="M591.2 1020.2 V1021.7" stroke="#2c78de" stroke-width="1.3" opacity=".85"/>
<rect x="589.8" y="1020.4" width="2.7" height="1.1" fill="#2c78de"/>
<path d="M594.8 1020.3 V1021.6" stroke="#dc4a60" stroke-width="1.3" opacity=".85"/>
<rect x="593.4" y="1020.5" width="2.7" height="1" fill="#dc4a60"/>
<path d="M598.4 1020 V1021.5" stroke="#2c78de" stroke-width="1.3" opacity=".85"/>
<rect x="597" y="1020.2" width="2.7" height="1.1" fill="#2c78de"/>
<path d="M602 1019.9 V1022.2" stroke="#2c78de" stroke-width="1.3" opacity=".85"/>
<rect x="600.6" y="1020.2" width="2.7" height="1.8" fill="#2c78de"/>
<path d="M605.6 1020.3 V1021.6" stroke="#dc4a60" stroke-width="1.3" opacity=".85"/>
<rect x="604.2" y="1020.5" width="2.7" height="1" fill="#dc4a60"/>
<path d="M609.2 1020.3 V1021.7" stroke="#2c78de" stroke-width="1.3" opacity=".85"/>
<rect x="607.8" y="1020.5" width="2.7" height="1" fill="#2c78de"/>
<path d="M612.8 1019.9 V1022.2" stroke="#dc4a60" stroke-width="1.3" opacity=".85"/>
<rect x="611.4" y="1020.1" width="2.7" height="1.8" fill="#dc4a60"/>
<path d="M616.3 1020.4 V1022.3" stroke="#dc4a60" stroke-width="1.3" opacity=".85"/>
<rect x="615" y="1020.7" width="2.7" height="1.4" fill="#dc4a60"/>
<path d="M619.9 1020.1 V1021.7" stroke="#2c78de" stroke-width="1.3" opacity=".85"/>
<rect x="618.6" y="1020.3" width="2.7" height="1.3" fill="#2c78de"/>
<path d="M623.5 1020.1 V1022" stroke="#dc4a60" stroke-width="1.3" opacity=".85"/>
<rect x="622.2" y="1020.3" width="2.7" height="1.4" fill="#dc4a60"/>
<path d="M627.1 1019.9 V1022.1" stroke="#dc4a60" stroke-width="1.3" opacity=".85"/>
<rect x="625.8" y="1020.2" width="2.7" height="1.7" fill="#dc4a60"/>
<path d="M630.7 1020.6 V1022.3" stroke="#2c78de" stroke-width="1.3" opacity=".85"/>
<rect x="629.4" y="1020.8" width="2.7" height="1.3" fill="#2c78de"/>
<path d="M634.3 1020 V1022" stroke="#dc4a60" stroke-width="1.3" opacity=".85"/>
<rect x="633" y="1020.3" width="2.7" height="1.5" fill="#dc4a60"/>
<path d="M637.9 1020.3 V1022.4" stroke="#dc4a60" stroke-width="1.3" opacity=".85"/>
<rect x="636.6" y="1020.5" width="2.7" height="1.6" fill="#dc4a60"/>
<path d="M641.5 1020.6 V1022.1" stroke="#dc4a60" stroke-width="1.3" opacity=".85"/>
<rect x="640.2" y="1020.8" width="2.7" height="1.2" fill="#dc4a60"/>
<path d="M645.1 1020.6 V1021.9" stroke="#dc4a60" stroke-width="1.3" opacity=".85"/>
<rect x="643.8" y="1020.8" width="2.7" height="1" fill="#dc4a60"/>
<path d="M648.7 1020.6 V1022" stroke="#dc4a60" stroke-width="1.3" opacity=".85"/>
<rect x="647.4" y="1020.7" width="2.7" height="1.1" fill="#dc4a60"/>
<path d="M652.3 1020.2 V1022" stroke="#dc4a60" stroke-width="1.3" opacity=".85"/>
<rect x="650.9" y="1020.4" width="2.7" height="1.4" fill="#dc4a60"/>
<path d="M655.9 1020.6 V1022.1" stroke="#2c78de" stroke-width="1.3" opacity=".85"/>
<rect x="654.5" y="1020.8" width="2.7" height="1.1" fill="#2c78de"/>
<path d="M659.5 1020.6 V1021.8" stroke="#dc4a60" stroke-width="1.3" opacity=".85"/>
<rect x="658.1" y="1020.7" width="2.7" height="1" fill="#dc4a60"/>
<path d="M663.1 1020.4 V1022" stroke="#2c78de" stroke-width="1.3" opacity=".85"/>
<rect x="661.7" y="1020.6" width="2.7" height="1.2" fill="#2c78de"/>
<path d="M666.7 1020.1 V1021.9" stroke="#2c78de" stroke-width="1.3" opacity=".85"/>
<rect x="665.3" y="1020.3" width="2.7" height="1.4" fill="#2c78de"/>
<path d="M670.3 1020.5 V1022.2" stroke="#2c78de" stroke-width="1.3" opacity=".85"/>
<rect x="668.9" y="1020.7" width="2.7" height="1.3" fill="#2c78de"/>
<path d="M673.9 1020.5 V1022.3" stroke="#2c78de" stroke-width="1.3" opacity=".85"/>
<rect x="672.5" y="1020.8" width="2.7" height="1.3" fill="#2c78de"/>
<path d="M677.5 1020.1 V1022.2" stroke="#2c78de" stroke-width="1.3" opacity=".85"/>
<rect x="676.1" y="1020.4" width="2.7" height="1.5" fill="#2c78de"/>
<path d="M681.1 1020.4 V1022.4" stroke="#2c78de" stroke-width="1.3" opacity=".85"/>
<rect x="679.7" y="1020.6" width="2.7" height="1.6" fill="#2c78de"/>
<path d="M684.7 1020.6 V1022" stroke="#dc4a60" stroke-width="1.3" opacity=".85"/>
<rect x="683.3" y="1020.8" width="2.7" height="1" fill="#dc4a60"/>
<path d="M688.2 1020.9 V1022.5" stroke="#dc4a60" stroke-width="1.3" opacity=".85"/>
<rect x="686.9" y="1021.1" width="2.7" height="1.3" fill="#dc4a60"/>
<path d="M691.8 1020.8 V1022.1" stroke="#dc4a60" stroke-width="1.3" opacity=".85"/>
<rect x="690.5" y="1021" width="2.7" height="1" fill="#dc4a60"/>
<path d="M695.4 1020.3 V1022.5" stroke="#2c78de" stroke-width="1.3" opacity=".85"/>
<rect x="694.1" y="1020.6" width="2.7" height="1.7" fill="#2c78de"/>
<path d="M699 1020.8 V1022.2" stroke="#dc4a60" stroke-width="1.3" opacity=".85"/>
<rect x="697.7" y="1021" width="2.7" height="1.1" fill="#dc4a60"/>
<path d="M702.6 1020.9 V1022.4" stroke="#dc4a60" stroke-width="1.3" opacity=".85"/>
<rect x="701.3" y="1021" width="2.7" height="1.2" fill="#dc4a60"/>
<path d="M706.2 1020.3 V1022.6" stroke="#dc4a60" stroke-width="1.3" opacity=".85"/>
<rect x="704.9" y="1020.6" width="2.7" height="1.8" fill="#dc4a60"/>
<path d="M709.8 1020.8 V1022.6" stroke="#2c78de" stroke-width="1.3" opacity=".85"/>
<rect x="708.5" y="1021" width="2.7" height="1.4" fill="#2c78de"/>
<path d="M713.4 1020.7 V1022.1" stroke="#dc4a60" stroke-width="1.3" opacity=".85"/>
<rect x="712.1" y="1020.9" width="2.7" height="1" fill="#dc4a60"/>
<path d="M717 1020.7 V1022.4" stroke="#dc4a60" stroke-width="1.3" opacity=".85"/>
<rect x="715.7" y="1020.9" width="2.7" height="1.4" fill="#dc4a60"/>
<path d="M720.6 1020.6 V1022.1" stroke="#dc4a60" stroke-width="1.3" opacity=".85"/>
<rect x="719.2" y="1020.8" width="2.7" height="1.1" fill="#dc4a60"/>
<path d="M724.2 1020.9 V1022.4" stroke="#dc4a60" stroke-width="1.3" opacity=".85"/>
<rect x="722.8" y="1021.1" width="2.7" height="1.1" fill="#dc4a60"/>
<path d="M727.8 1021 V1022.3" stroke="#dc4a60" stroke-width="1.3" opacity=".85"/>
<rect x="726.4" y="1021.2" width="2.7" height="1" fill="#dc4a60"/>
<path d="M731.4 1020.6 V1022.5" stroke="#dc4a60" stroke-width="1.3" opacity=".85"/>
<rect x="730" y="1020.8" width="2.7" height="1.4" fill="#dc4a60"/>
<path d="M735 1020.6 V1022.6" stroke="#2c78de" stroke-width="1.3" opacity=".85"/>
<rect x="733.6" y="1020.8" width="2.7" height="1.6" fill="#2c78de"/>
<path d="M738.6 1020.8 V1022.4" stroke="#2c78de" stroke-width="1.3" opacity=".85"/>
<rect x="737.2" y="1021" width="2.7" height="1.2" fill="#2c78de"/>
<path d="M742.2 1020.9 V1022.6" stroke="#2c78de" stroke-width="1.3" opacity=".85"/>
<rect x="740.8" y="1021.1" width="2.7" height="1.3" fill="#2c78de"/>
<path d="M745.8 1021 V1022.6" stroke="#2c78de" stroke-width="1.3" opacity=".85"/>
<rect x="744.4" y="1021.2" width="2.7" height="1.2" fill="#2c78de"/>
<path d="M749.4 1020.6 V1022.6" stroke="#2c78de" stroke-width="1.3" opacity=".85"/>
<rect x="748" y="1020.9" width="2.7" height="1.5" fill="#2c78de"/>
<path d="M753 1021 V1022.5" stroke="#2c78de" stroke-width="1.3" opacity=".85"/>
<rect x="751.6" y="1021.2" width="2.7" height="1.2" fill="#2c78de"/>
<path d="M756.6 1020.5 V1022.6" stroke="#2c78de" stroke-width="1.3" opacity=".85"/>
<rect x="755.2" y="1020.7" width="2.7" height="1.6" fill="#2c78de"/>
<path d="M760.1 1020.7 V1022.6" stroke="#2c78de" stroke-width="1.3" opacity=".85"/>
<rect x="758.8" y="1020.9" width="2.7" height="1.5" fill="#2c78de"/>
<path d="M763.7 1020.6 V1022.3" stroke="#2c78de" stroke-width="1.3" opacity=".85"/>
<rect x="762.4" y="1020.8" width="2.7" height="1.3" fill="#2c78de"/>
<path d="M767.3 1021 V1022.4" stroke="#dc4a60" stroke-width="1.3" opacity=".85"/>
<rect x="766" y="1021.2" width="2.7" height="1.1" fill="#dc4a60"/>
<path d="M770.9 1020.5 V1022.6" stroke="#dc4a60" stroke-width="1.3" opacity=".85"/>
<rect x="769.6" y="1020.8" width="2.7" height="1.6" fill="#dc4a60"/>
<path d="M774.5 1020.7 V1022.6" stroke="#2c78de" stroke-width="1.3" opacity=".85"/>
<rect x="773.2" y="1020.9" width="2.7" height="1.5" fill="#2c78de"/>
<path d="M778.1 1021.1 V1022.6" stroke="#2c78de" stroke-width="1.3" opacity=".85"/>
<rect x="776.8" y="1021.3" width="2.7" height="1.1" fill="#2c78de"/>
<path d="M781.7 1020.8 V1022.6" stroke="#2c78de" stroke-width="1.3" opacity=".85"/>
<rect x="780.4" y="1021" width="2.7" height="1.4" fill="#2c78de"/>
<path d="M785.3 1021.1 V1022.6" stroke="#2c78de" stroke-width="1.3" opacity=".85"/>
<rect x="784" y="1021.3" width="2.7" height="1.1" fill="#2c78de"/>
<path d="M788.9 1021.1 V1022.4" stroke="#dc4a60" stroke-width="1.3" opacity=".85"/>
<rect x="787.6" y="1021.3" width="2.7" height="1" fill="#dc4a60"/>
<path d="M792.5 1021 V1022.6" stroke="#2c78de" stroke-width="1.3" opacity=".85"/>
<rect x="791.2" y="1021.2" width="2.7" height="1.2" fill="#2c78de"/>
<path d="M796.1 1020.8 V1022.5" stroke="#2c78de" stroke-width="1.3" opacity=".85"/>
<rect x="794.7" y="1021" width="2.7" height="1.3" fill="#2c78de"/>
<path d="M799.7 1020.7 V1022.6" stroke="#2c78de" stroke-width="1.3" opacity=".85"/>
<rect x="798.3" y="1020.9" width="2.7" height="1.5" fill="#2c78de"/>
<path d="M803.3 1020.7 V1022.3" stroke="#2c78de" stroke-width="1.3" opacity=".85"/>
<rect x="801.9" y="1020.9" width="2.7" height="1.2" fill="#2c78de"/>
<path d="M806.9 1021 V1022.6" stroke="#dc4a60" stroke-width="1.3" opacity=".85"/>
<rect x="805.5" y="1021.2" width="2.7" height="1.2" fill="#dc4a60"/>
<path d="M810.5 1020.8 V1022.3" stroke="#dc4a60" stroke-width="1.3" opacity=".85"/>
<rect x="809.1" y="1021" width="2.7" height="1.1" fill="#dc4a60"/>
<path d="M814.1 1021 V1022.6" stroke="#dc4a60" stroke-width="1.3" opacity=".85"/>
<rect x="812.7" y="1021.2" width="2.7" height="1.2" fill="#dc4a60"/>
<path d="M817.7 1020.7 V1022.5" stroke="#2c78de" stroke-width="1.3" opacity=".85"/>
<rect x="816.3" y="1020.9" width="2.7" height="1.3" fill="#2c78de"/>
<path d="M821.3 1020.9 V1022.6" stroke="#2c78de" stroke-width="1.3" opacity=".85"/>
<rect x="819.9" y="1021.1" width="2.7" height="1.3" fill="#2c78de"/>
<path d="M824.9 1020.6 V1022.4" stroke="#dc4a60" stroke-width="1.3" opacity=".85"/>
<rect x="823.5" y="1020.8" width="2.7" height="1.4" fill="#dc4a60"/>
<path d="M828.5 1020.6 V1022.3" stroke="#2c78de" stroke-width="1.3" opacity=".85"/>
<rect x="827.1" y="1020.8" width="2.7" height="1.3" fill="#2c78de"/>
<path d="M832 1020.6 V1022.6" stroke="#dc4a60" stroke-width="1.3" opacity=".85"/>
<rect x="830.7" y="1020.9" width="2.7" height="1.5" fill="#dc4a60"/>
<path d="M835.6 1021.1 V1022.5" stroke="#dc4a60" stroke-width="1.3" opacity=".85"/>
<rect x="834.3" y="1021.2" width="2.7" height="1.1" fill="#dc4a60"/>
<path d="M839.2 1021.1 V1022.6" stroke="#2c78de" stroke-width="1.3" opacity=".85"/>
<rect x="837.9" y="1021.3" width="2.7" height="1.1" fill="#2c78de"/>
<path d="M842.8 1020.9 V1022.6" stroke="#dc4a60" stroke-width="1.3" opacity=".85"/>
<rect x="841.5" y="1021.1" width="2.7" height="1.3" fill="#dc4a60"/>
<path d="M846.4 1020.7 V1022.6" stroke="#dc4a60" stroke-width="1.3" opacity=".85"/>
<rect x="845.1" y="1020.9" width="2.7" height="1.5" fill="#dc4a60"/>
<path d="M850 1020.8 V1022.5" stroke="#2c78de" stroke-width="1.3" opacity=".85"/>
<rect x="848.7" y="1021" width="2.7" height="1.3" fill="#2c78de"/>
<path d="M853.6 1020.9 V1022.4" stroke="#2c78de" stroke-width="1.3" opacity=".85"/>
<rect x="852.3" y="1021.1" width="2.7" height="1.1" fill="#2c78de"/>
<path d="M857.2 1020.9 V1022.6" stroke="#dc4a60" stroke-width="1.3" opacity=".85"/>
<rect x="855.9" y="1021.1" width="2.7" height="1.3" fill="#dc4a60"/>
<path d="M860.8 1021.2 V1022.6" stroke="#dc4a60" stroke-width="1.3" opacity=".85"/>
<rect x="859.5" y="1021.4" width="2.7" height="1.1" fill="#dc4a60"/>
<path d="M864.4 1020.7 V1022.4" stroke="#dc4a60" stroke-width="1.3" opacity=".85"/>
<rect x="863.1" y="1020.9" width="2.7" height="1.3" fill="#dc4a60"/>
<path d="M868 1020.7 V1022.5" stroke="#2c78de" stroke-width="1.3" opacity=".85"/>
<rect x="866.6" y="1020.9" width="2.7" height="1.3" fill="#2c78de"/>
<path d="M871.6 1020.8 V1022.6" stroke="#2c78de" stroke-width="1.3" opacity=".85"/>
<rect x="870.2" y="1021" width="2.7" height="1.4" fill="#2c78de"/>
<path d="M875.2 1021.1 V1022.6" stroke="#dc4a60" stroke-width="1.3" opacity=".85"/>
<rect x="873.8" y="1021.2" width="2.7" height="1.2" fill="#dc4a60"/>
<path d="M878.8 1020.9 V1022.6" stroke="#2c78de" stroke-width="1.3" opacity=".85"/>
<rect x="877.4" y="1021.1" width="2.7" height="1.3" fill="#2c78de"/>
<path d="M882.4 1021.1 V1022.5" stroke="#dc4a60" stroke-width="1.3" opacity=".85"/>
<rect x="881" y="1021.3" width="2.7" height="1" fill="#dc4a60"/>
<path d="M886 1020.8 V1022.6" stroke="#dc4a60" stroke-width="1.3" opacity=".85"/>
<rect x="884.6" y="1021" width="2.7" height="1.4" fill="#dc4a60"/>
<path d="M33.8 885.6 C34.4 888.8 36.2 898.3 37.5 905 C38.8 911.7 40.3 921 41.7 926 C43.1 931 44.6 932.7 46 935 C47.4 937.3 48.7 938.7 50 940 C51.3 941.3 52.6 942.3 54 943 C55.4 943.7 56.9 944.5 58.3 944 C59.7 943.5 61.1 941.8 62.5 940 C63.9 938.2 65 936.2 66.7 933 C68.5 929.8 71.3 924.8 73 921 C74.7 917.2 75.7 913 77 910 C78.3 907 79.7 905.2 81 903 C82.3 900.8 83.5 898.7 85 897 C86.5 895.3 88.3 893.7 90 893 C91.7 892.3 93.3 892.3 95 893 C96.7 893.7 98.2 894.8 100 897 C101.8 899.2 103.8 902.2 106 906 C108.2 909.8 111.2 915.7 113.5 920 C115.8 924.3 117.9 928 120 932 C122.1 936 123.2 939.3 126 943.7 C128.8 948.1 133 954.5 136.5 958.3 C140 962.1 143.4 963.6 146.9 966.7 C150.4 969.8 153.8 974.2 157.3 977 C160.8 979.8 164.2 981.5 167.7 983.3 C171.1 985 174.5 986.6 178 987.5 C181.5 988.4 184.2 987.8 188.5 988.5 C192.8 989.2 199.6 990 204 991.7 C208.4 993.5 210.7 996.3 215 999 C219.3 1001.7 225 1005.7 230 1008 C235 1010.3 240 1012.2 245 1013 C250 1013.8 252.5 1012.5 260 1012.5 C267.5 1012.5 278.3 1012.3 290 1013 C301.7 1013.7 311.7 1015.5 330 1016.5 C348.3 1017.5 371.7 1018.4 400 1019 C428.3 1019.6 466.7 1020 500 1020.3 C533.3 1020.6 566.7 1020.8 600 1021 C633.3 1021.2 652.3 1021.4 700 1021.5 C747.7 1021.6 855 1021.8 886 1021.9" fill="none" stroke="#1243b0" stroke-width="1.4" opacity=".9"/>
<path d="M15.6 832.5 C16 834.1 17.1 838.4 18 842 C18.9 845.6 20 849.5 20.8 854 C21.6 858.5 22.3 863.4 23 869 C23.7 874.6 24.2 882.5 25 887.7 C25.8 892.9 26.6 894 27.6 900 C28.6 906 30.1 917 31.2 924 C32.3 931 33.3 936.9 34.4 941.7 C35.5 946.5 36.5 949.5 38 953 C39.5 956.5 42 961.5 43.7 962.5 C45.4 963.5 46.6 960.8 48 959 C49.4 957.2 50.8 954.3 52 952 C53.2 949.7 54 947.6 55 945 C56 942.4 57 941.4 58.3 936.5 C59.5 931.6 61.1 920.1 62.5 915.6 C63.9 911.1 65 912.7 66.7 909.6 C68.5 906.5 71.3 900.3 73 897 C74.7 893.7 75.8 891.2 77 889.8 C78.2 888.4 79 888.3 80 888.5 C81 888.7 81.7 889 83.3 890.8 C84.9 892.5 87.9 895.9 89.6 899 C91.3 902.1 92 905.6 93.7 909.6 C95.4 913.6 97.9 919.3 100 923 C102.1 926.7 104 928.9 106.2 932 C108.5 935.1 110.5 938.7 113.5 941.7 C116.5 944.7 121 946.5 124 950 C127 953.5 128.2 958.7 131.2 962.5 C134.1 966.3 138.2 969.6 141.7 972.9 C145.2 976.2 148.5 980.4 152 982.3 C155.5 984.2 159 983.4 162.5 984.4 C166 985.4 169.5 988.1 173 988.5 C176.5 988.9 179.9 986.7 183.3 986.5 C186.8 986.3 190.2 986.3 193.7 987.5 C197.1 988.7 201.3 991.6 204 993.7 C206.7 995.8 207.8 997.6 210 1000 C212.2 1002.4 214.5 1005.8 217 1008 C219.5 1010.2 222 1012.3 225 1013.5 C228 1014.7 231.5 1015 235 1015.2 C238.5 1015.4 243.2 1015.3 246 1014.5 C248.8 1013.7 250 1011.4 252 1010.5 C254 1009.6 255 1008.9 258 1009 C261 1009.1 264.7 1010.2 270 1011 C275.3 1011.8 283.3 1012.8 290 1013.5 C296.7 1014.2 300 1014.8 310 1015.5 C320 1016.2 335 1016.9 350 1017.5 C365 1018.1 383.3 1018.6 400 1019 C416.7 1019.4 428.3 1019.8 450 1020 C471.7 1020.2 514.2 1020.6 530 1020.3 C545.8 1020 540 1018.4 545 1018 C550 1017.6 555 1017.6 560 1018 C565 1018.4 568.3 1019.8 575 1020.3 C581.7 1020.8 579.2 1020.8 600 1021 C620.8 1021.2 652.3 1021.4 700 1021.5 C747.7 1021.6 855 1021.8 886 1021.9" fill="none" stroke="#a44fc2" stroke-width="1.35" opacity=".9"/>
<path d="M70.8 907.5 C71.5 908.1 73.6 909.8 75 911 C76.4 912.2 77.7 913.5 79.2 914.8 C80.7 916.1 82.5 917.6 84 919 C85.5 920.4 87.3 922.5 88.5 923.3 C89.7 924.1 90.1 923.8 91 923.6 C91.9 923.4 92 922.2 93.7 921.9 C95.4 921.6 98.3 922.1 101 921.6 C103.7 921.1 107.4 919.5 110 918.8 C112.6 918.1 114.9 917.2 116.7 917.2 C118.5 917.2 119.5 917.8 121 918.6 C122.5 919.4 123.8 920.2 126 921.9 C128.2 923.6 131.4 926.4 134 929 C136.6 931.6 138.7 933.7 141.7 937.5 C144.7 941.3 148.5 947.8 152 952 C155.5 956.2 159 959.2 162.5 962.5 C166 965.8 169.2 969.1 173 971.9 C176.8 974.7 182 977.3 185.4 979.2 C188.8 981.1 191.3 982.1 193.7 983.3 C196.1 984.5 196.3 984.7 200 986.2 C203.7 987.7 210.4 990.4 215.6 992.5 C220.8 994.6 226 996.8 231.2 998.7 C236.4 1000.6 242.6 1002.6 246.9 1004 C251.2 1005.4 253.8 1006 257.3 1007 C260.8 1008 263.4 1009.3 267.7 1010.2 C272 1011.1 276.2 1011.7 283.3 1012.3 C290.4 1012.9 298.9 1012.9 310 1013.6 C321.1 1014.3 335 1015.6 350 1016.3 C365 1017 375 1017.5 400 1018 C425 1018.5 466.7 1019 500 1019.3 C533.3 1019.6 566.7 1019.6 600 1019.9 C633.3 1020.2 652.3 1020.7 700 1021 C747.7 1021.3 855 1021.8 886 1021.9" fill="none" stroke="#5a1512" stroke-width="3.8" opacity=".6" stroke-linecap="round"/>
<path d="M70.8 907.5 C71.5 908.1 73.6 909.8 75 911 C76.4 912.2 77.7 913.5 79.2 914.8 C80.7 916.1 82.5 917.6 84 919 C85.5 920.4 87.3 922.5 88.5 923.3 C89.7 924.1 90.1 923.8 91 923.6 C91.9 923.4 92 922.2 93.7 921.9 C95.4 921.6 98.3 922.1 101 921.6 C103.7 921.1 107.4 919.5 110 918.8 C112.6 918.1 114.9 917.2 116.7 917.2 C118.5 917.2 119.5 917.8 121 918.6 C122.5 919.4 123.8 920.2 126 921.9 C128.2 923.6 131.4 926.4 134 929 C136.6 931.6 138.7 933.7 141.7 937.5 C144.7 941.3 148.5 947.8 152 952 C155.5 956.2 159 959.2 162.5 962.5 C166 965.8 169.2 969.1 173 971.9 C176.8 974.7 182 977.3 185.4 979.2 C188.8 981.1 191.3 982.1 193.7 983.3 C196.1 984.5 196.3 984.7 200 986.2 C203.7 987.7 210.4 990.4 215.6 992.5 C220.8 994.6 226 996.8 231.2 998.7 C236.4 1000.6 242.6 1002.6 246.9 1004 C251.2 1005.4 253.8 1006 257.3 1007 C260.8 1008 263.4 1009.3 267.7 1010.2 C272 1011.1 276.2 1011.7 283.3 1012.3 C290.4 1012.9 298.9 1012.9 310 1013.6 C321.1 1014.3 335 1015.6 350 1016.3 C365 1017 375 1017.5 400 1018 C425 1018.5 466.7 1019 500 1019.3 C533.3 1019.6 566.7 1019.6 600 1019.9 C633.3 1020.2 652.3 1020.7 700 1021 C747.7 1021.3 855 1021.8 886 1021.9" fill="none" stroke="#f2bb92" stroke-width="1.5"/>
<path d="M214 945.6 C215 946.5 218 949.3 220 951 C222 952.7 223.4 954 226 956 C228.6 958 231.9 961.1 235.4 962.8 C238.9 964.5 243.1 965 246.9 966 C250.7 967 254 967 258.3 968.5 C262.7 970 268 972.4 273 974.8 C278 977.2 284 980.6 288.5 983 C293 985.4 296.4 987.5 300 989.2 C303.6 990.9 305.4 991.5 310 993.3 C314.6 995.1 320.2 997.6 327.8 1000 C335.4 1002.4 346.3 1005.5 355.6 1007.5 C364.9 1009.5 374.2 1010.7 383.4 1012 C392.6 1013.3 400.2 1014.4 411 1015.3 C421.8 1016.2 433.2 1016.8 448 1017.2 C462.8 1017.7 474.7 1017.7 500 1018 C525.3 1018.3 566.7 1018.4 600 1018.8 C633.3 1019.2 666.7 1019.9 700 1020.4 C733.3 1020.9 769 1021.2 800 1021.5 C831 1021.8 871.7 1021.8 886 1021.9" fill="none" stroke="#6a1410" stroke-width="4.2" opacity=".7" stroke-linecap="round"/>
<path d="M214 945.6 C215 946.5 218 949.3 220 951 C222 952.7 223.4 954 226 956 C228.6 958 231.9 961.1 235.4 962.8 C238.9 964.5 243.1 965 246.9 966 C250.7 967 254 967 258.3 968.5 C262.7 970 268 972.4 273 974.8 C278 977.2 284 980.6 288.5 983 C293 985.4 296.4 987.5 300 989.2 C303.6 990.9 305.4 991.5 310 993.3 C314.6 995.1 320.2 997.6 327.8 1000 C335.4 1002.4 346.3 1005.5 355.6 1007.5 C364.9 1009.5 374.2 1010.7 383.4 1012 C392.6 1013.3 400.2 1014.4 411 1015.3 C421.8 1016.2 433.2 1016.8 448 1017.2 C462.8 1017.7 474.7 1017.7 500 1018 C525.3 1018.3 566.7 1018.4 600 1018.8 C633.3 1019.2 666.7 1019.9 700 1020.4 C733.3 1020.9 769 1021.2 800 1021.5 C831 1021.8 871.7 1021.8 886 1021.9" fill="none" stroke="#e65c48" stroke-width="1.6"/>
<path d="M429.7 981 C431.1 981.7 434.9 983.7 438 985 C441.1 986.3 443.5 987.8 448.3 989 C453.1 990.2 460.6 991.1 466.8 992.3 C473 993.5 479.9 995.1 485.4 996.3 C490.9 997.5 492.9 997.8 500 999.7 C507.1 1001.6 518.5 1005.5 527.8 1007.5 C537.1 1009.5 546.3 1010.8 555.6 1012 C564.9 1013.2 574.2 1014.1 583.4 1014.9 C592.6 1015.7 600.2 1016.2 611 1016.8 C621.8 1017.4 633.2 1017.9 648 1018.4 C662.8 1018.9 681.3 1019.4 700 1019.7 C718.7 1020 728.9 1020.1 760 1020.3 C791.1 1020.4 865.4 1020.5 886.5 1020.6" fill="none" stroke="#c3c6ce" stroke-width="1.8"/>
<text x="4.1" y="601" font-size="25" fill="#e4e7ee">단순</text>
<rect x="101.4" y="578" width="13.1" height="26.2" fill="#e512b6"/>
<rect x="139" y="578" width="13.1" height="26.2" fill="#0a33c2"/>
<rect x="192" y="578" width="13.1" height="26.2" fill="#ffa000"/>
<rect x="245.6" y="578" width="13.1" height="26.2" fill="#ff1a00"/>
<rect x="298.8" y="578" width="13.1" height="26.2" fill="#ababb3"/>
<path d="M1013 1029.3 L1027.8 1040 H998.2Z M1013 1053.4 L1027.8 1043 H998.2Z" fill="#8d929c"/>
</svg>
</div>
</body></html>
